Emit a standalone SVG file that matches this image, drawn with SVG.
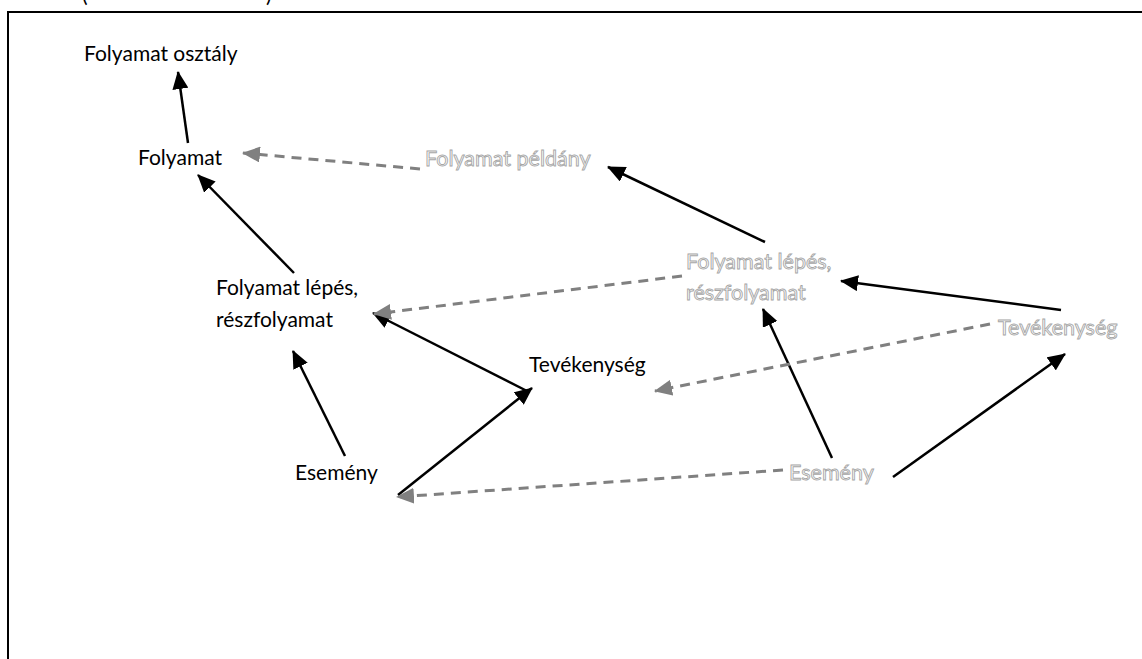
<svg xmlns="http://www.w3.org/2000/svg" width="1142" height="659" viewBox="0 0 1142 659">
<style>
.t{font-family:Lato,"Liberation Sans",sans-serif;font-size:21px;fill:#000}
.g{font-family:Lato,"Liberation Sans",sans-serif;font-size:21.5px;fill:#fff;stroke:#a6a6a6;stroke-width:0.9}
.s{stroke:#000;stroke-width:2.5;fill:none;marker-end:url(#ab)}
.d{stroke:#808080;stroke-width:3;fill:none;stroke-dasharray:10 7;marker-end:url(#ag)}
</style>
<defs>
<marker id="ab" markerUnits="userSpaceOnUse" markerWidth="20" markerHeight="16" refX="17" refY="8" orient="auto" viewBox="0 0 20 16"><path d="M0,0 L18,8 L0,16 Z" fill="#000"/></marker>
<marker id="ag" markerUnits="userSpaceOnUse" markerWidth="20" markerHeight="16" refX="17" refY="8" orient="auto" viewBox="0 0 20 16"><path d="M0,0 L18,8 L0,16 Z" fill="#808080"/></marker>
</defs>
<rect x="0" y="0" width="1142" height="659" fill="#fff"/>
<path d="M8,670 L8,12 L1150,12" stroke="#000" stroke-width="2" fill="none"/>
<text class="t" x="82" y="2">(</text>
<text class="t" x="266" y="2">)</text>
<g id="connectors">
<line class="s" x1="188" y1="143" x2="178" y2="72"/>
<line class="s" x1="294" y1="273" x2="198" y2="175"/>
<line class="s" x1="345" y1="456" x2="293" y2="351"/>
<line class="s" x1="527" y1="391" x2="373" y2="313"/>
<line class="s" x1="398" y1="495" x2="532" y2="388"/>
<line class="s" x1="765" y1="242" x2="608" y2="167"/>
<line class="s" x1="1061" y1="310" x2="841" y2="281"/>
<line class="s" x1="832" y1="458" x2="763" y2="309"/>
<line class="s" x1="893" y1="477" x2="1065" y2="354"/>
<line class="d" x1="420" y1="169" x2="243" y2="153"/>
<line class="d" x1="682" y1="276" x2="374" y2="314"/>
<line class="d" x1="990" y1="324" x2="655" y2="391"/>
<line class="d" x1="783" y1="470" x2="397" y2="497"/>
</g>
<g id="n-folyamat-osztaly"><text class="t" x="84" y="61">Folyamat osztály</text></g>
<g id="n-folyamat"><text class="t" x="138" y="165">Folyamat</text></g>
<g id="n-lepes"><text class="t" x="216" y="295">Folyamat lépés,</text><text class="t" x="216" y="327">részfolyamat</text></g>
<g id="n-tevekenyseg"><text class="t" x="529" y="372">Tevékenység</text></g>
<g id="n-esemeny"><text class="t" x="295" y="480">Esemény</text></g>
<g id="n-peldany"><text class="g" x="425" y="166">Folyamat példány</text></g>
<g id="n-lepes2"><text class="g" x="686" y="269">Folyamat lépés,</text><text class="g" x="686" y="300">részfolyamat</text></g>
<g id="n-tevekenyseg2"><text class="g" x="998" y="335">Tevékenység</text></g>
<g id="n-esemeny2"><text class="g" x="789" y="480">Esemény</text></g>
</svg>
